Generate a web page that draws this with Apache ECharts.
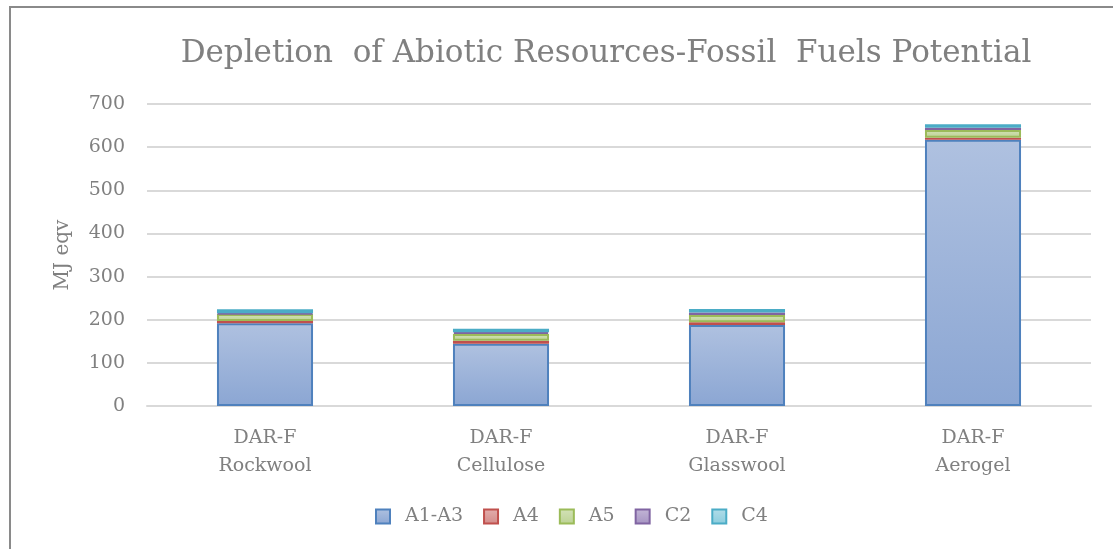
<!DOCTYPE html>
<html>
<head>
<meta charset="utf-8">
<script src="https://cdn.jsdelivr.net/npm/echarts@6/dist/echarts.min.js"></script>
<style>
  html, body { margin: 0; padding: 0; background: #fff; }
  #main { width: 1113px; height: 549px; }
</style>
</head>
<body>
<div id="main"></div>
<script>
var categories = ['DAR-F\nRockwool', 'DAR-F\nCellulose', 'DAR-F\nGlasswool', 'DAR-F\nAerogel'];
var seriesNames = ['A1-A3', 'A4', 'A5', 'C2', 'C4'];
var a1a3 = [192, 144, 188, 617];
var a4   = [5, 7, 6, 5];
var a5   = [16, 16, 17, 18];
var c2   = [2, 4, 6, 5];
var c4   = [9, 8, 8, 8];
var yTicks = [0, 100, 200, 300, 400, 500, 600, 700];

var lineColors = ['#4F81BD', '#C0504D', '#9BBB59', '#8064A2', '#4BACC6'];
var fillTop    = ['#AFC1E0', '#E3AFAE', '#D3E2B8', '#C3B6D6', '#B2DDE9'];
var fillBottom = ['#8BA6D3', '#D38A88', '#BCD293', '#A593C2', '#8ACCDD'];
var values = [a1a3, a4, a5, c2, c4];

var chart = echarts.init(document.getElementById('main'));
var font = '"DejaVu Serif", serif';

var series = seriesNames.map(function (name, i) {
    return {
        name: name,
        type: 'bar',
        stack: 'total',
        barWidth: '40.7%',
        data: values[i],
        itemStyle: {
            color: new echarts.graphic.LinearGradient(0, 0, 0, 1, [
                { offset: 0, color: fillTop[i] },
                { offset: 1, color: fillBottom[i] }
            ]),
            borderColor: lineColors[i],
            borderWidth: 2
        }
    };
});

var option = {
    animation: false,
    title: {
        text: 'Depletion  of Abiotic Resources-Fossil  Fuels Potential',
        left: 601,
        textAlign: 'center',
        top: 33,
        textStyle: { fontFamily: font, fontSize: 31, fontWeight: 'normal', color: '#808080' }
    },
    graphic: [{
        type: 'rect',
        shape: { x: 10, y: 7, width: 1200, height: 600 },
        style: { fill: 'none', stroke: '#8a8a8a', lineWidth: 2 },
        silent: true,
        z: -1
    }],
    legend: {
        data: seriesNames,
        icon: 'rect',
        top: 502,
        left: 370,
        itemWidth: 14,
        itemHeight: 14,
        itemGap: 20,
        textStyle: { fontFamily: font, fontSize: 19, color: '#808080', padding: [0, 0, 0, 10] }
    },
    grid: { left: 147, right: 22, top: 104, bottom: 143 },
    xAxis: {
        type: 'category',
        data: categories,
        axisLine: { lineStyle: { color: '#d9d9d9', width: 2 } },
        axisTick: { show: false },
        axisLabel: { fontFamily: font, fontSize: 19, color: '#808080', lineHeight: 28, margin: 18 }
    },
    yAxis: {
        type: 'value',
        min: yTicks[0],
        max: yTicks[yTicks.length - 1],
        interval: 100,
        name: 'MJ eqv',
        nameLocation: 'middle',
        nameGap: 74,
        nameTextStyle: { fontFamily: font, fontSize: 20, color: '#808080' },
        axisLine: { show: false },
        axisTick: { show: false },
        splitLine: { lineStyle: { color: '#d9d9d9', width: 2 } },
        axisLabel: { fontFamily: font, fontSize: 19, color: '#808080', margin: 22 }
    },
    series: series
};
chart.setOption(option);
</script>
</body>
</html>
